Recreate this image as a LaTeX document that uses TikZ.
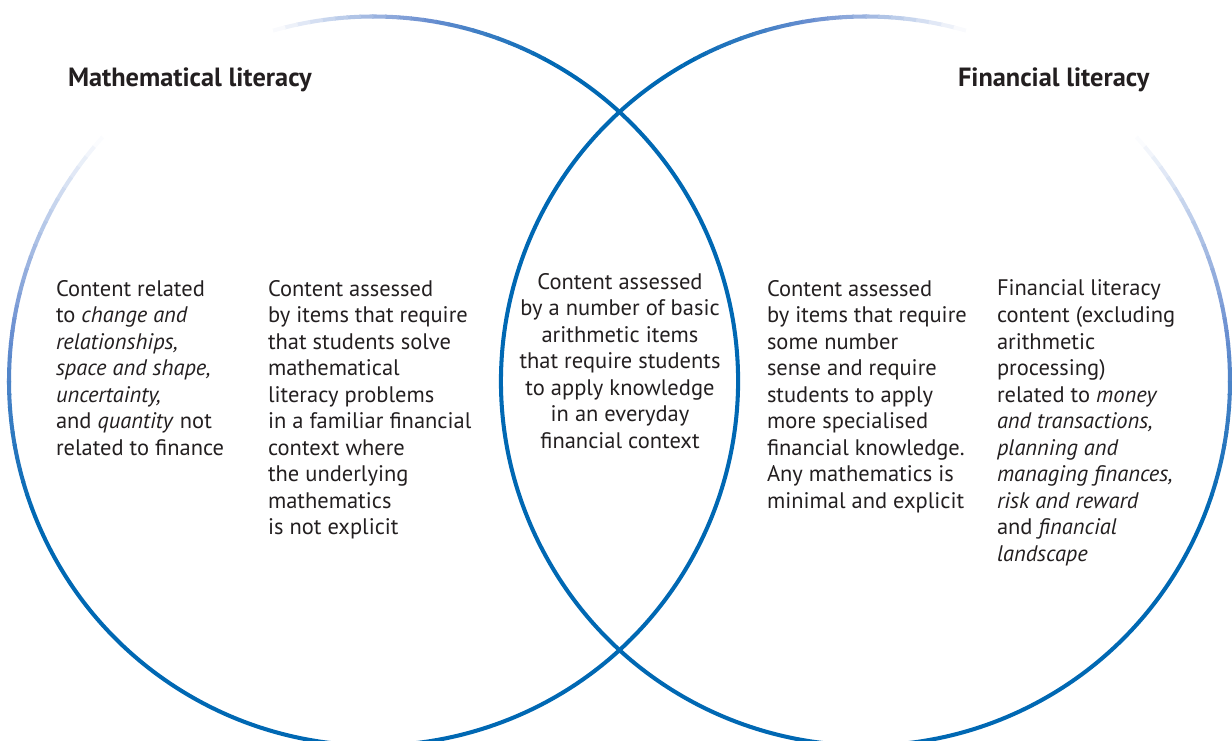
\documentclass[tikz,border=0pt]{standalone}
\usepackage{fontspec}
\setmainfont{PT Sans}
\definecolor{vennblue}{RGB}{0,104,179}
\definecolor{fadeblue}{RGB}{105,142,208}
\definecolor{textgray}{RGB}{35,31,32}
\begin{document}
\begin{tikzpicture}[line width=2.3pt,
    heading/.style={anchor=base west,inner sep=0pt,text=textgray,font=\fontsize{15}{18}\selectfont\bfseries},
    body/.style={anchor=north west,inner sep=0pt,align=left,text=textgray,font=\fontsize{12.8}{15.1}\selectfont}]
  \useasboundingbox (0,0) rectangle (24.64,14.8);

  % 円
  \coordinate (L) at (7.47,7.18);
  \coordinate (R) at (17.31,7.18);
  \draw[vennblue] (L) ++(200:7.29) arc (200:420:7.29);
  \draw[vennblue] (R) ++(120:7.29) arc (120:340:7.29);
  % 上のぼかし
  \foreach \a in {60,62,...,198}{
    \pgfmathsetmacro{\t}{min(1,max(0,\a<121 ? (105-\a)/45 : (\a-137)/63))}
    \pgfmathsetmacro{\p}{\t<0.55 ? 100*\t/0.55 : 100}
    \pgfmathsetmacro{\q}{\t<0.55 ? 0 : 100*(\t-0.55)/0.45}
    \colorlet{arccol}{vennblue!\q!fadeblue}
    \draw[arccol!\p!white] (L) ++(\a:7.29) arc (\a:\a+2.2:7.29);
    \draw[arccol!\p!white] (R) ++(180-\a:7.29) arc (180-\a:180-\a-2.2:7.29);
  }

  % 見出し
  \node[heading] (math) at (1.32,13.06) {Mathematical literacy};
  \node[heading] (fin) at (19.12,13.06) {Financial literacy};

  % 本文
  \node[body] (mathonly) at (1.08,9.24) {Content related\\to \textit{change and}\\\textit{relationships,}\\\textit{space and shape,}\\\textit{uncertainty,}\\and \textit{quantity} not\\related to finance};
  \node[body] (mathfin) at (5.32,9.24) {Content assessed\\by items that require\\that students solve\\mathematical\\literacy problems\\in a familiar financial\\context where\\the underlying\\mathematics\\is not explicit};
  \node[body,anchor=north,align=center] (both) at (12.4,9.38) {Content assessed\\by a number of basic\\arithmetic items\\that require students\\to apply knowledge\\in an everyday\\financial context};
  \node[body] (finmath) at (15.30,9.24) {Content assessed\\by items that require\\some number\\sense and require\\students to apply\\more specialised\\financial knowledge.\\Any mathematics is\\minimal and explicit};
  \node[body] (finonly) at (19.90,9.24) {Financial literacy\\content (excluding\\arithmetic\\processing)\\related to \textit{money}\\\textit{and transactions,}\\\textit{planning and}\\\textit{managing finances,}\\\textit{risk and reward}\\and \textit{financial}\\\textit{landscape}};
\end{tikzpicture}
\end{document}
